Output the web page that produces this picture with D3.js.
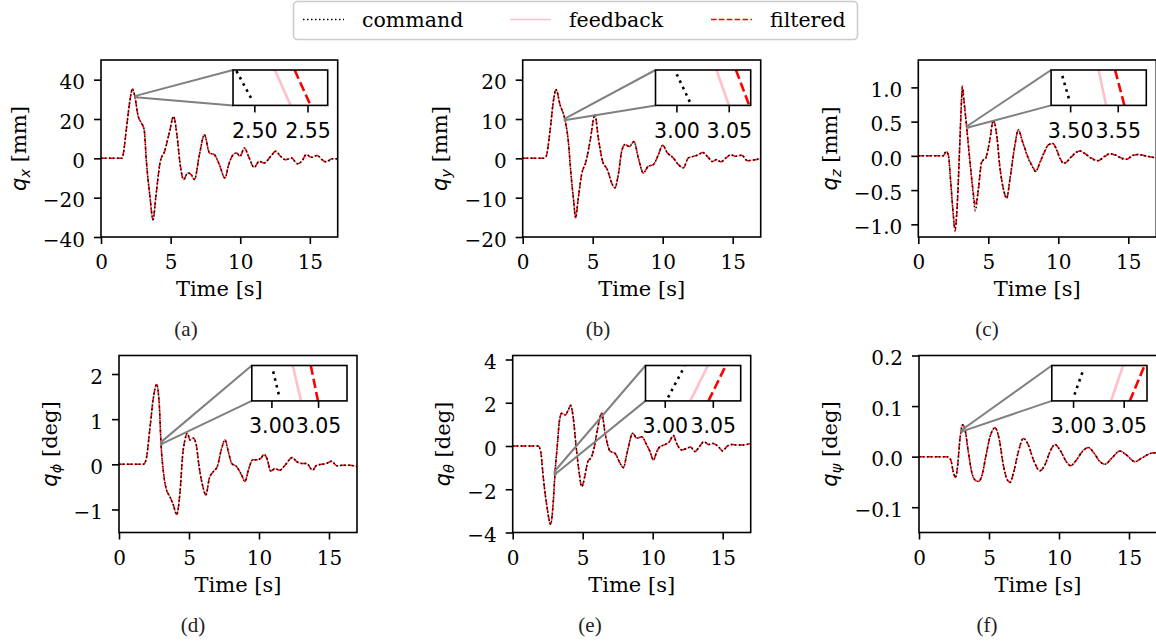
<!DOCTYPE html>
<html>
<head>
<meta charset="utf-8">
<script src="https://cdn.jsdelivr.net/npm/d3@7"></script>
<style>
  body { margin: 0; background: #fff; }
  svg { display: block; }
</style>
</head>
<body>
<svg id="fig" width="1156" height="643"></svg>
<script>
// ---------- sampled traces (time in s) ----------
const timeA = [0, 1.48, 1.59, 1.83, 2.07, 2.26, 2.43, 2.67, 2.90, 3.10, 3.26, 3.50, 3.74, 3.93, 4.26, 4.57, 4.93, 5.21, 5.45, 5.69, 5.93, 6.24, 6.48, 6.71, 7.07, 7.43, 7.79, 8.14, 8.50, 8.90, 9.17, 9.50, 9.74, 9.98, 10.30, 10.64, 11.00, 11.36, 11.71, 12.19, 12.55, 12.90, 13.26, 13.69, 14.10, 14.45, 14.74, 15.12, 15.52, 15.88, 16.17, 16.60, 17.0];
const commandA = [0, 0, 1.9, 15.4, 29.0, 35.3, 31.5, 21.4, 18.0, 14.6, -1.5, -18.5, -31.2, -20.1, -1.5, 3.6, 13.7, 21.4, 12.0, -3.2, -10.8, -7.4, -8.3, -10.8, 1.9, 12.0, 2.7, 1.9, -3.2, -10.0, -3.2, 1.9, 2.7, 1.0, 5.3, 0.2, -4.6, -1.5, -2.4, 1.0, 3.6, 1.0, -0.7, 0.2, -2.8, -1.2, 1.9, 0.5, 1.5, -0.7, -1.8, -0.2, -0.2];

const timeB = [0, 1.47, 1.67, 1.95, 2.19, 2.38, 2.67, 3.02, 3.26, 3.45, 3.62, 3.78, 3.97, 4.21, 4.52, 4.81, 5.16, 5.40, 5.71, 6.05, 6.36, 6.59, 6.83, 7.07, 7.31, 7.62, 7.95, 8.26, 8.62, 8.97, 9.33, 9.69, 10.0, 10.33, 10.76, 11.12, 11.48, 11.83, 12.19, 12.55, 12.86, 13.19, 13.55, 13.86, 14.14, 14.52, 14.86, 15.24, 15.64, 16.05, 16.48, 17.0];
const commandB = [0, 0, 0.5, 6.9, 14.5, 17.5, 13.6, 9.8, 4.3, -4.1, -10.1, -15.1, -10.1, -4.1, -0.8, 4.3, 11.1, 5.2, -0.8, -2.9, -6.3, -7.5, -4.1, 1.8, 3.5, 3.0, 4.3, 0.1, -3.7, -2.0, -1.6, 0.9, 3.3, 1.4, 0.1, -1.6, -2.4, 0.1, 0.5, 0.9, 1.5, 0.5, -0.8, -0.3, -0.9, 0.1, 0.9, 0.5, 0.8, -0.6, -0.4, -0.1];

const timeC = [0, 1.79, 1.98, 2.15, 2.31, 2.50, 2.62, 2.79, 2.93, 3.05, 3.15, 3.26, 3.45, 3.64, 3.88, 4.07, 4.29, 4.52, 4.64, 4.81, 5.12, 5.36, 5.60, 5.83, 6.12, 6.31, 6.55, 6.90, 7.14, 7.45, 7.86, 8.21, 8.38, 8.69, 9.05, 9.29, 9.60, 9.83, 10.12, 10.40, 10.71, 11.07, 11.55, 12.02, 12.45, 12.86, 13.26, 13.69, 14.12, 14.52, 14.88, 15.31, 15.71, 16.19, 17.0];
const commandC = [0, 0, 0.06, 0.01, -0.38, -0.86, -1.06, -0.67, 0.01, 0.64, 1.0, 0.79, 0.42, 0.01, -0.48, -0.80, -0.48, -0.09, -0.06, -0.04, 0.25, 0.52, 0.30, -0.18, -0.52, -0.62, -0.33, 0.16, 0.38, 0.20, -0.04, -0.18, -0.23, -0.09, 0.08, 0.16, 0.18, 0.11, -0.04, -0.11, -0.06, 0.02, 0.07, 0.01, -0.05, -0.07, -0.01, 0.03, 0.01, -0.04, -0.05, 0.01, 0.02, 0.0, -0.03];
const filteredC = [0, 0, 0.07, 0.01, -0.36, -0.86, -1.10, -0.70, -0.02, 0.62, 1.02, 0.82, 0.44, 0.03, -0.44, -0.72, -0.50, -0.10, -0.06, -0.03, 0.24, 0.52, 0.31, -0.16, -0.52, -0.62, -0.34, 0.15, 0.38, 0.21, -0.03, -0.17, -0.23, -0.10, 0.07, 0.16, 0.18, 0.12, -0.03, -0.11, -0.07, 0.01, 0.07, 0.02, -0.04, -0.07, -0.02, 0.03, 0.01, -0.03, -0.05, 0.0, 0.02, 0.0, -0.03];

const timeD = [0, 1.74, 1.93, 2.21, 2.45, 2.69, 2.88, 3.00, 3.17, 3.36, 3.64, 3.88, 4.12, 4.36, 4.55, 4.71, 4.88, 5.07, 5.31, 5.50, 5.74, 6.02, 6.21, 6.45, 6.74, 7.02, 7.33, 7.57, 7.81, 8.05, 8.40, 8.76, 9.00, 9.24, 9.55, 9.83, 10.12, 10.36, 10.60, 10.83, 11.14, 11.50, 11.86, 12.38, 12.69, 13.05, 13.40, 13.83, 14.12, 14.48, 14.83, 15.19, 15.55, 16.02, 16.50, 17.0];
const commandD = [0, 0, 0.10, 0.80, 1.46, 1.77, 1.31, 0.46, -0.16, -0.53, -0.72, -0.90, -1.11, -0.61, 0.21, 0.54, 0.69, 0.54, 0.58, 0.46, -0.09, -0.53, -0.68, -0.31, -0.16, -0.05, 0.35, 0.54, 0.28, 0.02, -0.05, -0.24, -0.38, -0.13, 0.10, 0.10, 0.13, 0.22, 0.10, -0.15, -0.10, -0.13, -0.02, 0.15, 0.06, 0.02, 0.02, -0.13, -0.02, 0.0, 0.02, 0.07, -0.03, -0.02, -0.02, -0.05];

const timeE = [0, 1.83, 2.00, 2.19, 2.43, 2.71, 2.90, 3.02, 3.19, 3.33, 3.50, 3.74, 3.97, 4.14, 4.33, 4.52, 4.74, 4.93, 5.17, 5.36, 5.64, 5.88, 6.07, 6.36, 6.60, 6.95, 7.31, 7.62, 7.90, 8.19, 8.57, 8.86, 9.21, 9.57, 9.81, 10.05, 10.29, 10.52, 10.83, 11.19, 11.48, 11.71, 12.07, 12.43, 12.71, 13.02, 13.33, 13.67, 13.98, 14.33, 14.69, 15.00, 15.29, 15.64, 16.05, 16.48, 17.0];
const commandE = [0, 0, -0.26, -1.49, -2.73, -3.62, -2.57, -1.26, 0.05, 1.12, 1.51, 1.43, 1.66, 1.89, 1.28, 0.05, -1.19, -1.88, -1.34, -0.73, -0.49, 0.12, 0.82, 1.51, 0.59, -0.23, -0.34, -0.73, -1.00, -0.26, 0.59, 0.36, 0.43, 0.05, -0.26, -0.65, -0.26, -0.03, 0.05, 0.20, 0.48, 0.12, -0.18, -0.11, -0.05, -0.26, -0.03, 0.20, 0.07, 0.12, -0.03, -0.23, -0.03, 0.07, 0.05, 0.05, 0.12];

const timeF = [0, 1.98, 2.26, 2.45, 2.60, 2.74, 2.93, 3.12, 3.29, 3.52, 3.76, 4.00, 4.24, 4.48, 4.79, 5.07, 5.43, 5.74, 6.02, 6.31, 6.50, 6.74, 7.10, 7.45, 7.81, 8.17, 8.64, 9.00, 9.36, 9.71, 10.07, 10.55, 10.83, 11.26, 11.69, 12.10, 12.50, 12.93, 13.29, 13.76, 14.36, 14.83, 15.43, 15.90, 16.62, 17.0];
const commandF = [0, 0, -0.006, -0.030, -0.041, -0.023, 0.036, 0.063, 0.053, 0.010, -0.030, -0.046, -0.049, -0.039, 0.003, 0.039, 0.057, 0.033, -0.016, -0.046, -0.051, -0.033, 0.010, 0.036, 0.023, -0.006, -0.028, -0.016, 0.010, 0.024, 0.013, -0.011, -0.018, -0.006, 0.011, 0.018, 0.007, -0.010, -0.015, -0.003, 0.011, 0.003, -0.010, -0.003, 0.007, 0.008];

// ---------- zoomed windows around t = 3 s ----------
const zoomA = { xRange: [2.480, 2.569], yRange: [31.0, 31.75], ticks: [2.50, 2.55],
  command: [[2.4832, 31.729], [2.4988, 31.079]], feedback: [[2.5194, 31.75], [2.5341, 31.0]], filtered: [[2.5379, 31.75], [2.5529, 31.0]] };
const zoomB = { xRange: [2.980, 3.071], yRange: [9.70, 10.02], ticks: [3.00, 3.05],
  command: [[3.0003, 9.982], [3.0139, 9.710]], feedback: [[3.0383, 10.02], [3.0502, 9.70]], filtered: [[3.0569, 10.02], [3.0696, 9.70]] };
const zoomC = { xRange: [3.480, 3.580], yRange: [0.410, 0.432], ticks: [3.50, 3.55],
  command: [[3.4918, 0.4284], [3.4991, 0.4134]], feedback: [[3.5299, 0.432], [3.5378, 0.410]], filtered: [[3.5472, 0.432], [3.5570, 0.410]] };
const zoomD = { xRange: [2.979, 3.081], yRange: [0.440, 0.486], ticks: [3.00, 3.05],
  command: [[3.0019, 0.4783], [3.0087, 0.4443]], feedback: [[3.0229, 0.486], [3.0317, 0.440]], filtered: [[3.0422, 0.486], [3.0499, 0.440]] };
const zoomE = { xRange: [2.980, 3.079], yRange: [-1.33, -1.18], ticks: [3.00, 3.05],
  command: [[3.0035, -1.3151], [3.0207, -1.1829]], feedback: [[3.0266, -1.33], [3.0449, -1.18]], filtered: [[3.0455, -1.33], [3.0635, -1.18]] };
const zoomF = { xRange: [2.979, 3.073], yRange: [0.0490, 0.0511], ticks: [3.00, 3.05],
  command: [[3.0014, 0.04937], [3.0105, 0.05091]], feedback: [[3.0375, 0.0490], [3.0494, 0.0511]], filtered: [[3.0560, 0.0490], [3.0706, 0.0511]] };

// ---------- axis ticks ----------
const timeTicks = [0, 5, 10, 15];
const ticksA = [-40, -20, 0, 20, 40];
const ticksB = [-20, -10, 0, 10, 20];
const ticksC = [-1.0, -0.5, 0.0, 0.5, 1.0];
const ticksD = [-1, 0, 1, 2];
const ticksE = [-4, -2, 0, 2, 4];
const ticksF = [-0.1, 0.0, 0.1, 0.2];

const legendLabels = ["command", "feedback", "filtered"];

// ---------- figure ----------
const svg = d3.select("#fig");
const SERIF = "'DejaVu Serif', serif";
const SANS = "'DejaVu Sans', sans-serif";

const styles = {
  command:  { stroke: "#000000", dash: "1.5,2.5", insetDash: "2.6,4.4" },
  feedback: { stroke: "#ffc0cb", dash: null, insetDash: null },
  filtered: { stroke: "#ff0000", dash: "5.5,2.4", insetDash: "9.5,4" }
};
// feedback underneath, filtered next, command dots on top
const drawOrder = ["feedback", "filtered", "command"];

const row1 = { top: 60, bottom: 237 };
const row2 = { top: 355.5, bottom: 532.5 };

const panels = [
  { id: "a", sub: "x", unit: "mm", time: timeA, command: commandA, feedback: commandA, filtered: commandA,
    left: 101, right: 337.7, row: row1, yDomain: [-40, 50], yTicks: ticksA, fmt: d3.format("d"), zoom: zoomA, cap: 186 },
  { id: "b", sub: "y", unit: "mm", time: timeB, command: commandB, feedback: commandB, filtered: commandB,
    left: 522.7, right: 760.7, row: row1, yDomain: [-20, 25], yTicks: ticksB, fmt: d3.format("d"), zoom: zoomB, cap: 598 },
  { id: "c", sub: "z", unit: "mm", time: timeC, command: commandC, feedback: commandC, filtered: filteredC,
    left: 918.3, right: 1156.3, row: row1, yDomain: [-1.185, 1.40], yTicks: ticksC, fmt: d3.format(".1f"), zoom: zoomC, cap: 987 },
  { id: "d", sub: "\u03D5", unit: "deg", time: timeD, command: commandD, feedback: commandD, filtered: commandD,
    left: 119, right: 357, row: row2, yDomain: [-1.51, 2.41], yTicks: ticksD, fmt: d3.format("d"), zoom: zoomD, cap: 193 },
  { id: "e", sub: "\u03B8", unit: "deg", time: timeE, command: commandE, feedback: commandE, filtered: commandE,
    left: 512.7, right: 750.7, row: row2, yDomain: [-4, 4.185], yTicks: ticksE, fmt: d3.format("d"), zoom: zoomE, cap: 590 },
  { id: "f", sub: "\u03C8", unit: "deg", time: timeF, command: commandF, feedback: commandF, filtered: commandF,
    left: 919, right: 1157, row: row2, yDomain: [-0.15, 0.2], yTicks: ticksF, fmt: d3.format(".1f"), zoom: zoomF, cap: 987 }
];

const defs = svg.append("defs");

function styleAxis(g, font, size) {
  g.select(".domain").remove();
  g.selectAll(".tick line").attr("stroke", "#000").attr("stroke-width", 1.6);
  g.selectAll(".tick text").attr("fill", "#000").style("font-family", font).style("font-size", size + "px");
}

panels.forEach(p => {
  const top = p.row.top, bottom = p.row.bottom;
  const x = d3.scaleLinear().domain([0, 17]).range([p.left, p.right]);
  const y = d3.scaleLinear().domain(p.yDomain).range([bottom, top]);
  const g = svg.append("g").attr("class", "panel-" + p.id);

  defs.append("clipPath").attr("id", "clip-" + p.id)
    .append("rect").attr("x", p.left).attr("y", top)
    .attr("width", p.right - p.left).attr("height", bottom - top);

  const line = d3.line().x(d => x(d[0])).y(d => y(d[1])).curve(d3.curveMonotoneX);
  const plot = g.append("g").attr("clip-path", "url(#clip-" + p.id + ")");
  drawOrder.forEach(key => {
    const pts = p.time.map((t, i) => [t, p[key][i]]);
    plot.append("path")
      .attr("d", line(pts))
      .attr("fill", "none")
      .attr("stroke", styles[key].stroke)
      .attr("stroke-width", 1.5)
      .attr("stroke-dasharray", styles[key].dash);
  });

  // axes
  const gx = g.append("g").attr("transform", `translate(0,${bottom})`)
    .call(d3.axisBottom(x).tickValues(timeTicks).tickFormat(d3.format("d")).tickSize(7).tickPadding(11));
  styleAxis(gx, SERIF, 20);
  const gy = g.append("g").attr("transform", `translate(${p.left},0)`)
    .call(d3.axisLeft(y).tickValues(p.yTicks).tickFormat(p.fmt).tickSize(7).tickPadding(9));
  styleAxis(gy, SERIF, 20);
  gy.selectAll(".tick text").attr("dy", "0.46em");

  g.append("rect").attr("x", p.left).attr("y", top)
    .attr("width", p.right - p.left).attr("height", bottom - top)
    .attr("fill", "none").attr("stroke", "#000").attr("stroke-width", 1.6);

  // axis labels
  g.append("text")
    .attr("x", (p.left + p.right) / 2).attr("y", bottom + 59)
    .attr("text-anchor", "middle")
    .style("font-family", SERIF).style("font-size", "21px")
    .text("Time [s]");

  const tickLeft = p.left + gy.node().getBBox().x;
  const lbl = g.append("text")
    .attr("transform", `translate(${tickLeft - 17},${(top + bottom) / 2}) rotate(-90)`)
    .attr("text-anchor", "middle")
    .style("font-size", "21px");
  lbl.append("tspan").style("font-family", SANS).style("font-style", "italic").text("q");
  lbl.append("tspan").style("font-family", SANS).style("font-style", "italic")
    .style("font-size", "14.5px").attr("dy", 4).text(p.sub);
  lbl.append("tspan").style("font-family", SERIF).attr("dy", -4).text("\u00A0[" + p.unit + "]");

  // caption
  g.append("text")
    .attr("x", p.cap).attr("y", bottom + 99)
    .attr("text-anchor", "middle")
    .style("font-family", "'Liberation Serif', serif").style("font-size", "21px")
    .attr("fill", "#222")
    .text("(" + p.id + ")");

  // zoomed inset (upper right)
  const z = p.zoom;
  const iw = 0.4 * (p.right - p.left), ih = 0.2 * (bottom - top);
  const ix0 = p.right - 10 - iw, iy0 = top + 10;
  const xi = d3.scaleLinear().domain(z.xRange).range([ix0, ix0 + iw]);
  const yi = d3.scaleLinear().domain(z.yRange).range([iy0 + ih, iy0]);

  // marked region in the main axes and its connectors
  const rx0 = x(z.xRange[0]), rx1 = x(z.xRange[1]);
  const ry0 = y(z.yRange[1]), ry1 = y(z.yRange[0]);
  g.append("rect").attr("x", rx0).attr("y", ry0).attr("width", rx1 - rx0).attr("height", ry1 - ry0)
    .attr("fill", "none").attr("stroke", "#808080").attr("stroke-width", 1.6);
  g.append("line").attr("x1", ix0).attr("y1", iy0).attr("x2", rx0).attr("y2", ry0)
    .attr("stroke", "#808080").attr("stroke-width", 2);
  g.append("line").attr("x1", ix0).attr("y1", iy0 + ih).attr("x2", rx0).attr("y2", ry1)
    .attr("stroke", "#808080").attr("stroke-width", 2);

  const ig = g.append("g");
  ig.append("rect").attr("x", ix0).attr("y", iy0).attr("width", iw).attr("height", ih).attr("fill", "#fff");
  defs.append("clipPath").attr("id", "iclip-" + p.id)
    .append("rect").attr("x", ix0).attr("y", iy0).attr("width", iw).attr("height", ih);
  const iplot = ig.append("g").attr("clip-path", "url(#iclip-" + p.id + ")");
  const iline = d3.line().x(d => xi(d[0])).y(d => yi(d[1]));
  ["command", "feedback", "filtered"].forEach(key => {
    iplot.append("path")
      .attr("d", iline(z[key]))
      .attr("fill", "none")
      .attr("stroke", styles[key].stroke)
      .attr("stroke-width", 2.6)
      .attr("stroke-dasharray", styles[key].insetDash);
  });
  const gix = ig.append("g").attr("transform", `translate(0,${iy0 + ih})`)
    .call(d3.axisBottom(xi).tickValues(z.ticks).tickFormat(d3.format(".2f")).tickSize(7).tickPadding(11));
  styleAxis(gix, SANS, 20.5);
  ig.append("rect").attr("x", ix0).attr("y", iy0).attr("width", iw).attr("height", ih)
    .attr("fill", "none").attr("stroke", "#000").attr("stroke-width", 1.6);
});

// ---------- legend ----------
const legend = svg.append("g");
legend.append("rect").attr("x", 293.5).attr("y", 1.5).attr("width", 564).attr("height", 38).attr("rx", 4)
  .attr("fill", "#fff").attr("stroke", "#cccccc").attr("stroke-width", 1.6);
const legendX = [303, 510, 711];
["command", "feedback", "filtered"].forEach((key, i) => {
  legend.append("line").attr("x1", legendX[i]).attr("x2", legendX[i] + 41).attr("y1", 19.5).attr("y2", 19.5)
    .attr("stroke", styles[key].stroke).attr("stroke-width", 1.5).attr("stroke-dasharray", styles[key].dash);
  legend.append("text").attr("x", legendX[i] + 59).attr("y", 26.5)
    .style("font-family", SERIF).style("font-size", "20.5px")
    .text(legendLabels[i]);
});
</script>
</body>
</html>
